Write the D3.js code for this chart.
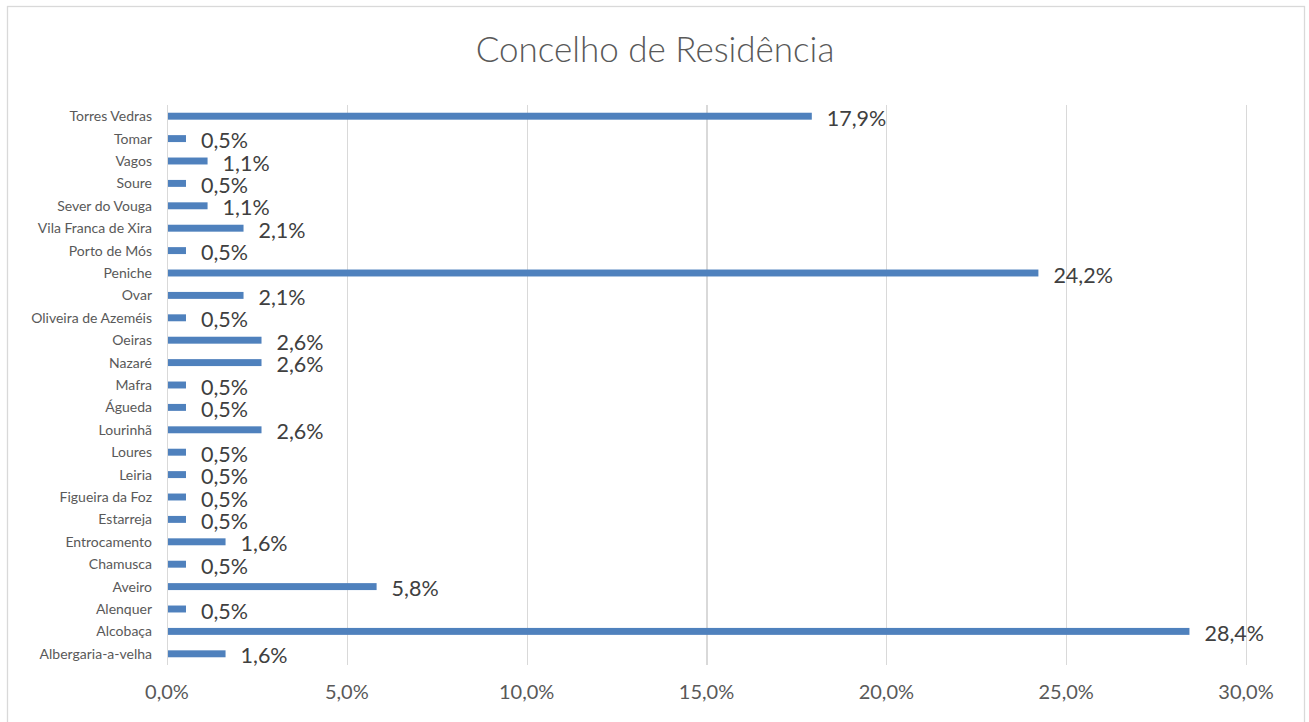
<!DOCTYPE html>
<html>
<head>
<meta charset="utf-8">
<title>Concelho de Residência</title>
<style>
body { margin: 0; background: #fff; font-family: "Lato", "Open Sans", sans-serif; }
.grid line { stroke: #d9d9d9; stroke-width: 1.3; shape-rendering: crispEdges; }
.grid path { display: none; }
</style>
</head>
<body>
<svg width="1309" height="722"></svg>
<script src="https://d3js.org/d3.v7.min.js"></script>
<script>

// categories, top to bottom as they appear
var concelhos = ["Torres Vedras", "Tomar", "Vagos", "Soure", "Sever do Vouga",
  "Vila Franca de Xira", "Porto de Mós", "Peniche", "Ovar", "Oliveira de Azeméis",
  "Oeiras", "Nazaré", "Mafra", "Águeda", "Lourinhã", "Loures", "Leiria",
  "Figueira da Foz", "Estarreja", "Entrocamento", "Chamusca", "Aveiro",
  "Alenquer", "Alcobaça", "Albergaria-a-velha"];

var percentagens = [17.9, 0.5, 1.1, 0.5, 1.1, 2.1, 0.5, 24.2, 2.1, 0.5,
  2.6, 2.6, 0.5, 0.5, 2.6, 0.5, 0.5, 0.5, 0.5, 1.6, 0.5, 5.8, 0.5, 28.4, 1.6];

var xTicks = [0, 5, 10, 15, 20, 25, 30];

var fmt = function(v) { return v.toFixed(1).replace(".", ",") + "%"; };

var svg = d3.select("svg");

// outer chart border
svg.append("rect")
    .attr("x", 7.5).attr("y", 6.5)
    .attr("width", 1297).attr("height", 720)
    .attr("fill", "none")
    .attr("stroke", "#d9d9d9")
    .attr("stroke-width", 1.3);

var margin = {top: 105, left: 167, right: 63, bottom: 57},
    width = 1309 - margin.left - margin.right,
    height = 722 - margin.top - margin.bottom;

var g = svg.append("g").attr("transform", "translate(" + margin.left + "," + margin.top + ")");

var x = d3.scaleLinear().domain([0, 30]).range([0, width]);
var y = d3.scaleBand().domain(concelhos).range([0, height]).paddingInner(0.69).paddingOuter(0.345);

svg.append("text")
    .attr("x", 655).attr("y", 62)
    .attr("text-anchor", "middle")
    .attr("fill", "#595959")
    .attr("font-size", 35)
    .attr("font-weight", 300)
    .text("Concelho de Residência");

// vertical gridlines
g.append("g")
    .attr("class", "grid")
    .call(d3.axisBottom(x).tickValues(xTicks).tickSize(height).tickFormat(""));

// x tick labels
g.append("g")
    .selectAll("text")
    .data(xTicks)
    .enter().append("text")
      .attr("x", function(d) { return x(d); })
      .attr("y", height + 34)
      .attr("text-anchor", "middle")
      .attr("fill", "#595959")
      .attr("font-size", 20)
      .text(fmt);

// category labels
g.append("g")
    .selectAll("text")
    .data(concelhos)
    .enter().append("text")
      .attr("x", -15)
      .attr("y", function(d) { return y(d) + y.bandwidth() / 2; })
      .attr("dy", "0.35em")
      .attr("text-anchor", "end")
      .attr("fill", "#595959")
      .attr("font-size", 14)
      .text(function(d) { return d; });

// bars
g.append("g")
    .selectAll("rect")
    .data(percentagens)
    .enter().append("rect")
      .attr("x", x(0) + 1)
      .attr("y", function(d, i) { return y(concelhos[i]); })
      .attr("width", function(d) { return x(d) - x(0); })
      .attr("height", y.bandwidth())
      .attr("fill", "#4f81bd");

// value labels
g.append("g")
    .selectAll("text")
    .data(percentagens)
    .enter().append("text")
      .attr("x", function(d) { return x(d) + 16; })
      .attr("y", function(d, i) { return y(concelhos[i]) + y.bandwidth() / 2 + 2; })
      .attr("dy", "0.35em")
      .attr("fill", "#404040")
      .attr("font-size", 21.5)
      .text(fmt);

</script>
</body>
</html>
